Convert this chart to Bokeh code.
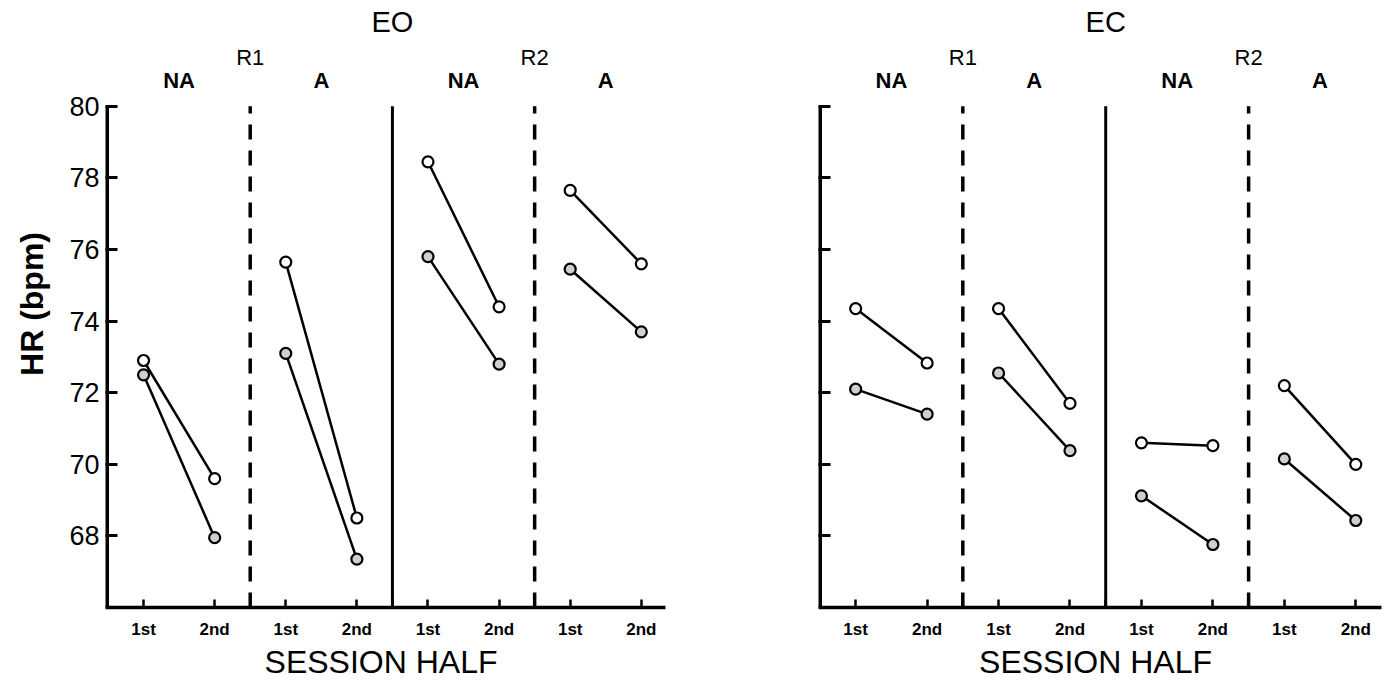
from bokeh.plotting import figure
from bokeh.layouts import row
from bokeh.models import FixedTicker, Range1d
from bokeh.core.properties import value
from bokeh.embed import file_html
from bokeh.resources import INLINE

# ---- data (HR in bpm) ----
halves = ["1st", "2nd"]
conditions = ["R1 NA", "R1 A", "R2 NA", "R2 A"]
group_labels = ["NA", "A", "NA", "A"]
replications = ["R1", "R2"]

eo_upper = [[72.9, 69.6], [75.65, 68.5], [78.45, 74.4], [77.65, 75.6]]
eo_lower = [[72.5, 67.95], [73.1, 67.35], [75.8, 72.8], [75.45, 73.7]]
ec_upper = [[74.35, 72.83], [74.35, 71.7], [70.6, 70.52], [72.2, 70.0]]
ec_lower = [[72.1, 71.4], [72.55, 70.38], [69.12, 67.76], [70.15, 68.43]]

y_ticks = [68, 70, 72, 74, 76, 78, 80]
y_min, y_max = 66, 80

FONT = "Liberation Sans"
FIG_H = 682
HEADER = 106            # px of header space above the value 80
BOTTOM = 74
PLOT_H = FIG_H - HEADER - BOTTOM          # px between 66 and 80
UNIT = PLOT_H / (y_max - y_min)           # px per bpm
Y_TOP = y_max + HEADER / UNIT             # frame top value (header area)


def hy(px_from_top):
    """value coordinate for a header text centred px_from_top below the page top"""
    return y_max + (HEADER - px_from_top) / UNIT


def pos(i, j):
    return 2 * i + j + 1


def make_panel(title, upper, lower, width, left, right, xr, show_y_labels):
    p = figure(width=width, height=FIG_H, output_backend="svg", toolbar_location=None,
               x_range=Range1d(*xr), y_range=Range1d(y_min, Y_TOP),
               min_border_left=left, min_border_right=right,
               min_border_top=0, min_border_bottom=BOTTOM)
    p.outline_line_color = None
    p.grid.grid_line_color = None
    p.background_fill_color = "white"
    p.border_fill_color = "white"

    # x axis
    xt = [1, 2, 2.5, 3, 4, 4.5, 5, 6, 6.5, 7, 8]
    p.xaxis.ticker = FixedTicker(ticks=xt)
    ov = {}
    for i in range(len(conditions)):
        for j in range(len(halves)):
            ov[pos(i, j)] = halves[j]
    for d in (2.5, 4.5, 6.5):
        ov[d] = ""
    p.xaxis.major_label_overrides = ov
    p.xaxis.axis_label = "SESSION  HALF"
    p.xaxis.axis_label_text_font = FONT
    p.xaxis.axis_label_text_font_style = "normal"
    p.xaxis.axis_label_text_font_size = "32px"
    p.xaxis.axis_label_text_color = "black"
    p.xaxis.axis_label_standoff = 2
    p.xaxis.major_label_text_font = FONT
    p.xaxis.major_label_text_font_style = "bold"
    p.xaxis.major_label_text_font_size = "17px"
    p.xaxis.major_label_text_color = "black"
    p.xaxis.major_label_standoff = 12
    p.xaxis.major_tick_in = 8
    p.xaxis.major_tick_out = 0
    p.xaxis.minor_tick_line_color = None
    p.xaxis.axis_line_width = 3.5
    p.xaxis.major_tick_line_width = 2.5
    p.xaxis.axis_line_color = "black"
    p.xaxis.major_tick_line_color = "black"

    # y axis (line drawn only from 66 to 80 below)
    p.yaxis.ticker = FixedTicker(ticks=y_ticks)
    p.yaxis.major_tick_in = 12
    p.yaxis.major_tick_out = 0
    p.yaxis.minor_tick_line_color = None
    p.yaxis.axis_line_color = None
    p.yaxis.major_tick_line_width = 3
    p.yaxis.major_tick_line_color = "black"
    if show_y_labels:
        p.yaxis.axis_label = "HR (bpm)"
        p.yaxis.axis_label_text_font = FONT
        p.yaxis.axis_label_text_font_style = "bold"
        p.yaxis.axis_label_text_font_size = "32px"
        p.yaxis.axis_label_text_color = "black"
        p.yaxis.axis_label_standoff = 16
        p.yaxis.major_label_text_font = FONT
        p.yaxis.major_label_text_font_size = "27px"
        p.yaxis.major_label_text_color = "black"
        p.yaxis.major_label_standoff = 6
    else:
        p.yaxis.major_label_overrides = {t: "" for t in y_ticks}

    # vertical axis line from 66 to 80 (half of the width falls outside the frame)
    p.segment(x0=[xr[0]], y0=[y_min], x1=[xr[0]], y1=[y_max],
              line_color="black", line_width=7)

    # dividers
    p.segment(x0=[2.5, 6.5], y0=[y_min, y_min], x1=[2.5, 6.5], y1=[y_max, y_max],
              line_color="black", line_width=3.5, line_dash="15 11")
    p.segment(x0=[4.5], y0=[y_min], x1=[4.5], y1=[y_max],
              line_color="black", line_width=3)

    # data
    for i in range(len(conditions)):
        xs = [pos(i, j) for j in range(len(halves))]
        for series, fill in ((upper, "white"), (lower, "#cfcfcf")):
            p.line(xs, series[i], line_color="black", line_width=2.5)
            p.scatter(xs, series[i], size=11, marker="circle", fill_color=fill,
                      line_color="black", line_width=2.2)

    # header texts
    p.text(x=[4.5], y=[hy(22)], text=[title], text_align="center",
           text_baseline="middle", text_font=value(FONT), text_font_size="29px",
           text_color="black")
    p.text(x=[2.5 + 4 * k for k in range(len(replications))],
           y=[hy(57)] * len(replications), text=replications,
           text_align="center", text_baseline="middle", text_font=value(FONT),
           text_font_size="22px", text_color="black")
    p.text(x=[2 * i + 1.5 for i in range(len(group_labels))],
           y=[hy(80)] * len(group_labels), text=group_labels,
           text_align="center", text_baseline="middle", text_font=value(FONT),
           text_font_style="bold", text_font_size="22px", text_color="black")
    return p


p1 = make_panel("EO", eo_upper, eo_lower, 760, 105, 95, (0.465, 8.34), True)
p2 = make_panel("EC", ec_upper, ec_lower, 625, 58, 4, (0.48, 8.36), False)

layout = row(p1, p2)
open("out.html", "w").write(file_html(layout, INLINE))
